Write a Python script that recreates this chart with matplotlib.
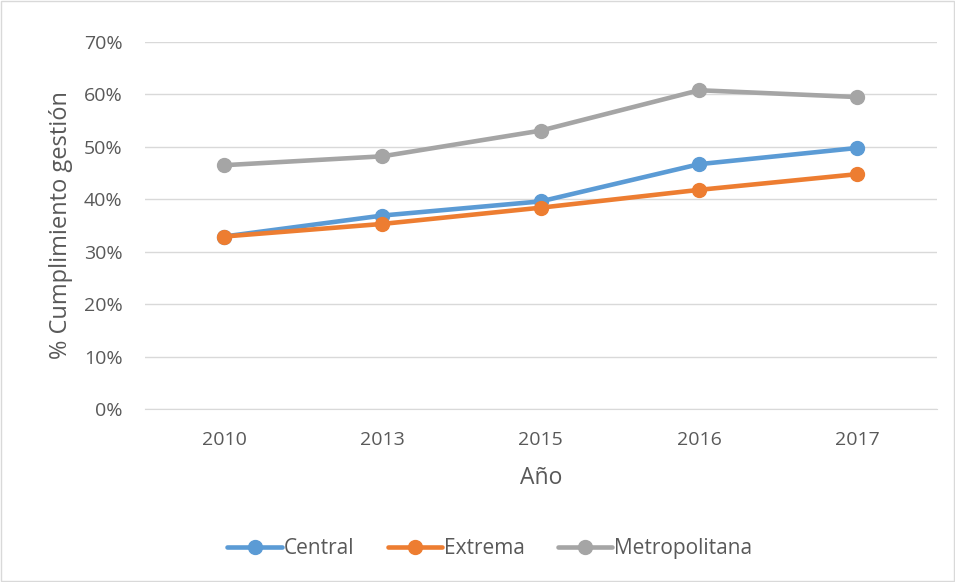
import matplotlib.pyplot as plt
from matplotlib.ticker import PercentFormatter
from matplotlib.patches import Rectangle

# data
years = ["2010", "2013", "2015", "2016", "2017"]
central = [32.9, 36.9, 39.6, 46.7, 49.8]
extrema = [32.9, 35.3, 38.4, 41.8, 44.8]
metropolitana = [46.5, 48.2, 53.1, 60.8, 59.5]

series_names = ["Central", "Extrema", "Metropolitana"]
colors = ["#5B9BD5", "#ED7D31", "#A5A5A5"]

plt.rcParams["font.family"] = ["Open Sans", "DejaVu Sans"]
text_color = "#595959"

fig = plt.figure(figsize=(9.55, 5.82), dpi=100)
ax = fig.add_axes([0.1518, 0.2973, 0.829, 0.6305])

x = list(range(len(years)))
for vals, name, col in zip([central, extrema, metropolitana], series_names, colors):
    ax.plot(x, vals, color=col, linewidth=3.3, marker="o", markersize=10,
            label=name, solid_capstyle="round", zorder=3)

ax.set_xlim(-0.5, len(years) - 0.5)
ax.set_ylim(0, 70)
ax.set_yticks(range(0, 71, 10))
ax.yaxis.set_major_formatter(PercentFormatter(decimals=0))
ax.set_xticks(x)
ax.set_xticklabels(years)

ax.grid(axis="y", color="#D9D9D9", linewidth=1)
ax.set_axisbelow(True)
for side in ["top", "right", "left"]:
    ax.spines[side].set_visible(False)
ax.spines["bottom"].set_color("#D9D9D9")
ax.tick_params(axis="both", length=0, labelsize=14, colors=text_color)
ax.tick_params(axis="y", pad=16)
ax.tick_params(axis="x", pad=16)

ax.set_xlabel("Año", fontsize=16.5, color=text_color, labelpad=12)
ax.set_ylabel("% Cumplimiento gestión", fontsize=17, color=text_color, labelpad=8)

leg = fig.legend(loc="center", bbox_to_anchor=(0.513, 0.057), ncol=3, frameon=False,
                 fontsize=15, handlelength=2.6, handletextpad=0.1, columnspacing=1.6)
for t in leg.get_texts():
    t.set_color(text_color)

# chart area border
fig.patches.append(Rectangle((0.001, 0.001), 0.998, 0.998, transform=fig.transFigure,
                             fill=False, edgecolor="#D9D9D9", linewidth=1))

fig.savefig("out.png", dpi=100)
